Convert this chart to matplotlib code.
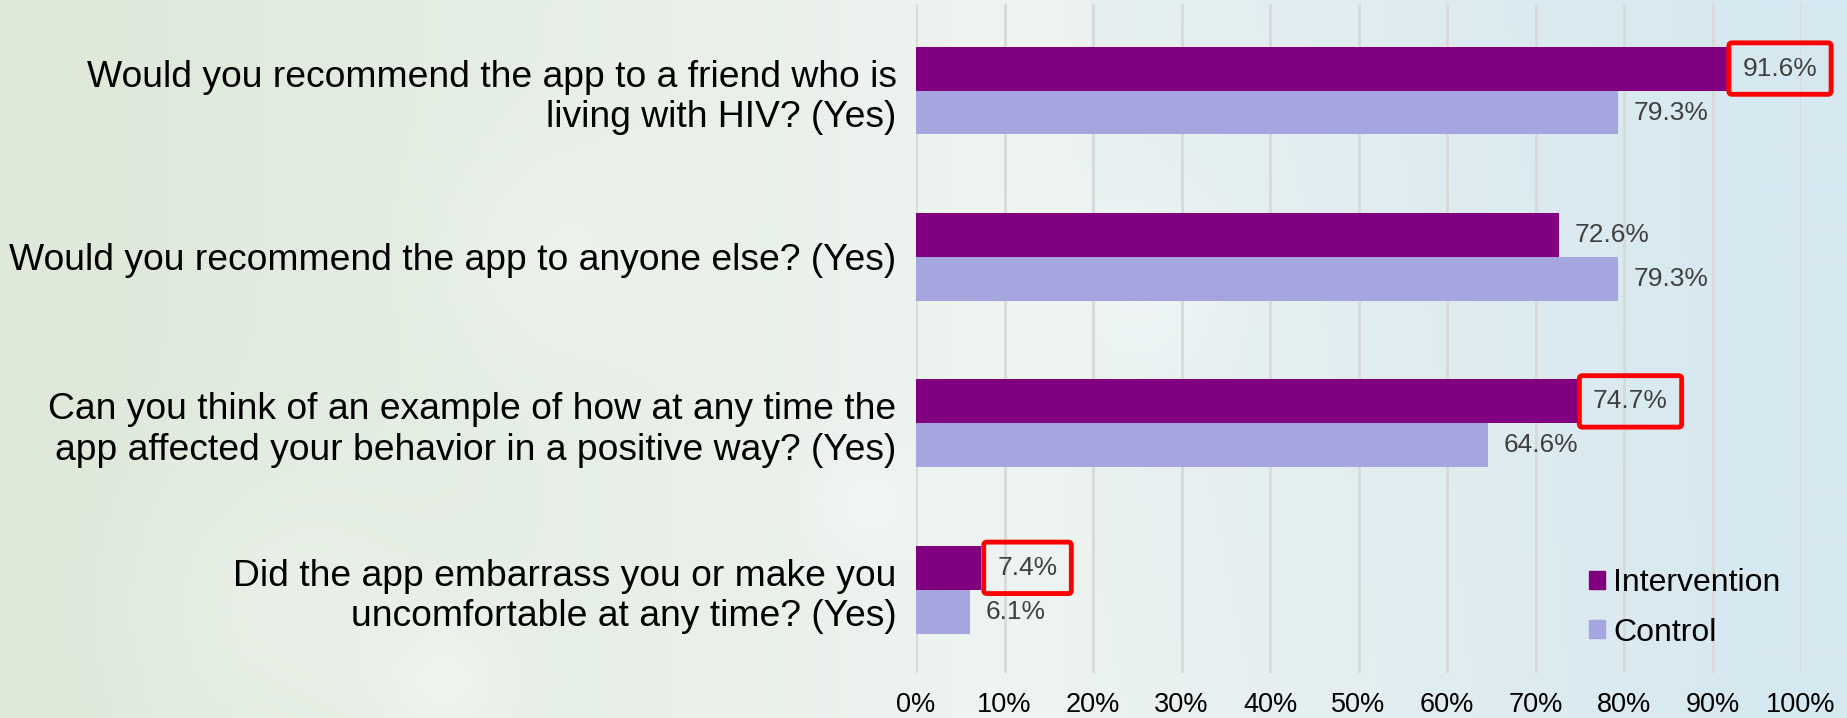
import matplotlib
matplotlib.use("Agg")
import matplotlib.pyplot as plt
from matplotlib.patches import Patch
import numpy as np

plt.rcParams['font.family'] = ['Liberation Sans', 'DejaVu Sans']

questions = [
    "Would you recommend the app to a friend who is\nliving with HIV? (Yes)",
    "Would you recommend the app to anyone else? (Yes)",
    "Can you think of an example of how at any time the\napp affected your behavior in a positive way? (Yes)",
    "Did the app embarrass you or make you\nuncomfortable at any time? (Yes)",
]
intervention = [91.6, 72.6, 74.7, 7.4]
control = [79.3, 79.3, 64.6, 6.1]
highlighted = [True, False, True, True]  # intervention values boxed in red
ticks = list(range(0, 101, 10))

c_int = '#800080'
c_ctl = '#A5A5E0'

W, H = 1847, 718
fig = plt.figure(figsize=(W / 100, H / 100), dpi=100)

# soft green-to-blue backdrop with a few faint light blobs
bg = fig.add_axes([0, 0, 1, 1], zorder=-10)
yy, xx = np.mgrid[0:1:200j, 0:1:500j]
green = np.array([222, 233, 218]) / 255
white = np.array([238, 244, 241]) / 255
blue = np.array([214, 232, 240]) / 255
t = np.clip(xx * 1.1 - 0.05, 0, 1)[..., None]
img = np.where(t < 0.55,
               green + (white - green) * (t / 0.55),
               white + (blue - white) * ((t - 0.55) / 0.45))
v = (1 - yy)[..., None]
img = img * (1 - 0.25 * v * (t > 0.6)) + 0.25 * v * (t > 0.6) * blue
for cx, cy, r, a in [(0.24, 0.95, 0.10, 0.5), (0.47, 0.70, 0.07, 0.5),
                     (0.62, 0.40, 0.12, 0.5), (0.30, 0.35, 0.15, 0.3),
                     (0.15, 0.85, 0.20, 0.3)]:
    d = np.hypot((xx - cx) * 2.57, yy - cy)
    m = (np.exp(-(d / r) ** 2) * a)[..., None]
    img = img * (1 - m) + np.array([0.97, 0.98, 0.98]) * m
bg.imshow(np.clip(img, 0, 1), extent=[0, 1, 0, 1], aspect='auto', origin='upper')
bg.axis('off')

ax = fig.add_axes([916 / W, 1 - 673 / H, (1801 - 916) / W, (673 - 4) / H])
ax.patch.set_alpha(0)

y = np.arange(len(questions))
h = 0.264
ax.barh(y - h / 2, intervention, height=h, color=c_int, label='Intervention', zorder=3)
ax.barh(y + h / 2, control, height=h, color=c_ctl, label='Control', zorder=3)

for i in range(len(questions)):
    box = dict(boxstyle='round,pad=0.52,rounding_size=0.12', fc='none',
               ec='#FF0000', lw=3.5) if highlighted[i] else None
    ax.annotate(f"{intervention[i]:.1f}%", (intervention[i], y[i] - h / 2),
                xytext=(11.5, 0), textcoords='offset points', va='center',
                ha='left', fontsize=19, color='#404040', bbox=box, zorder=4)
    ax.annotate(f"{control[i]:.1f}%", (control[i], y[i] + h / 2),
                xytext=(11.5, 0), textcoords='offset points', va='center',
                ha='left', fontsize=19, color='#404040', zorder=4)

ax.set_xlim(0, 100)
ax.set_ylim(3.5, -0.52)
ax.set_xticks(ticks)
ax.set_xticklabels([f"{v}%" for v in ticks], fontsize=19.5)
ax.set_yticks(y)
ax.set_yticklabels(questions, fontsize=26.8, linespacing=1.2)
ax.tick_params(axis='x', length=0, pad=13.5)
ax.tick_params(axis='y', length=0, pad=14)
ax.grid(axis='x', color='#D9D9D9', linewidth=2, zorder=0)
for s in ax.spines.values():
    s.set_visible(False)

handles = [Patch(color=c_int, label='Intervention'), Patch(color=c_ctl, label='Control')]
fig.legend(handles=handles, loc='center left', bbox_to_anchor=(1589 / W, 1 - 608 / H),
           frameon=False, fontsize=23, handlelength=0.5, handleheight=0.5,
           handletextpad=0.25, labelspacing=0.6, borderpad=0, borderaxespad=0)

fig.savefig('out.png', dpi=100)
